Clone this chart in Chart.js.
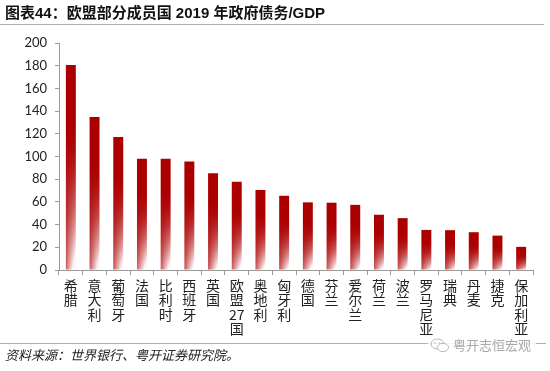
<!DOCTYPE html>
<html>
<head>
<meta charset="utf-8">
<script src="https://cdn.jsdelivr.net/npm/chart.js@4"></script>
<style>
  html, body { margin: 0; padding: 0; background: #fff; }
  #wrap { position: relative; width: 550px; height: 371px; overflow: hidden; font-family: "Liberation Sans", "Noto Sans CJK SC", sans-serif; }
  #chart { position: absolute; left: 0; top: 0; }
  #title { position: absolute; left: 5px; top: 4px; font-size: 15px; font-weight: bold; color: #111; white-space: nowrap; line-height: 18px; font-family: "Liberation Sans", "Noto Sans CJK SC", sans-serif; }
  #titleLine { position: absolute; left: 0; top: 24px; width: 544px; height: 0; border-top: 1px solid #b0b0b0; }
  #bottomLine { position: absolute; left: 0; top: 343px; width: 546px; height: 0; border-top: 1px solid #b0b0b0; }
  #source { position: absolute; left: 5px; top: 346px; font-size: 13px; font-style: italic; color: #222; white-space: nowrap; line-height: 18px; font-family: "Noto Sans CJK SC", sans-serif; }
  #wm { position: absolute; left: 428px; top: 336px; height: 18px; width: 108px; background: rgba(255,255,255,0.85); color: #a8a8a8; font-size: 13px; line-height: 18px; white-space: nowrap; font-family: "Noto Sans CJK SC", sans-serif; }
  #wm svg { position: absolute; left: 2px; top: 2px; }
  #wm span { position: absolute; left: 25px; top: 0; }
</style>
</head>
<body>
<div id="wrap">
  <canvas id="chart" width="550" height="371"></canvas>
  <div id="title">图表44：欧盟部分成员国 2019 年政府债务/GDP</div>
  <div id="titleLine"></div>
  <div id="bottomLine"></div>
  <div id="source">资料来源：世界银行、粤开证券研究院。</div>
  <div id="wm">
    <svg width="20" height="15" viewBox="0 0 20 15">
      <ellipse cx="7.5" cy="6" rx="6.5" ry="5" fill="none" stroke="#b5b5b5" stroke-width="1"/>
      <ellipse cx="13" cy="9.5" rx="5.5" ry="4.2" fill="#fff" stroke="#b5b5b5" stroke-width="1"/>
      <circle cx="5" cy="5" r="0.8" fill="#b5b5b5"/><circle cx="9.5" cy="5" r="0.8" fill="#b5b5b5"/>
    </svg>
    <span>粤开志恒宏观</span>
  </div>
</div>
<script>
// ---- data ----
const categories = ['希腊','意大利','葡萄牙','法国','比利时','西班牙','英国','欧盟27国','奥地利','匈牙利','德国','芬兰','爱尔兰','荷兰','波兰','罗马尼亚','瑞典','丹麦','捷克','保加利亚'];
const debtToGDP = [180.7,134.8,117.2,98.1,98.1,95.5,85.2,77.7,70.5,65.4,59.6,59.3,57.4,48.7,45.7,35.3,35.1,33.3,30.3,20.4];
const yTicks = [0,20,40,60,80,100,120,140,160,180,200];

// vertical labels: one character per line, digits kept together
function verticalLines(s) { return s.match(/[0-9]+|./g); }
const tickLabels = categories.map(verticalLines);

const BAR_PCT = 0.42;
const RED = [172, 0, 0];

function barFill(ctx) {
  const chart = ctx.chart;
  const xs = chart.scales && chart.scales.x, ys = chart.scales && chart.scales.y;
  const solid = 'rgb(' + RED.join(',') + ')';
  if (!xs || !ys || ctx.type !== 'data') return solid;
  const i = ctx.dataIndex, v = debtToGDP[i];
  const cx = xs.getPixelForValue(i);
  const top = ys.getPixelForValue(v), base = ys.getPixelForValue(0);
  if (!isFinite(cx) || !isFinite(top) || !isFinite(base) || base - top < 1) return solid;
  const bw = Math.max(2, Math.ceil(xs.width / categories.length * BAR_PCT) + 1);
  const h = Math.max(1, Math.ceil(base - top) + 1);
  const oc = document.createElement('canvas');
  oc.width = bw; oc.height = h;
  const o = oc.getContext('2d');
  const img = o.createImageData(bw, h);
  for (let y = 0; y < h; y++) {
    let t = (y / h - 0.3) / 0.7; t = Math.max(0, Math.min(1, t));
    for (let x = 0; x < bw; x++) {
      const s = (x + 0.5) / bw;
      let a = t * t * (0.2 + 0.95 * s) + t * 0.12;
      a = Math.max(0, Math.min(0.97, a));
      const k = (y * bw + x) * 4;
      img.data[k]     = Math.round(RED[0] * (1 - a) + 255 * a);
      img.data[k + 1] = Math.round(RED[1] * (1 - a) + 255 * a);
      img.data[k + 2] = Math.round(RED[2] * (1 - a) + 255 * a);
      img.data[k + 3] = 255;
    }
  }
  o.putImageData(img, 0, 0);
  const p = chart.ctx.createPattern(oc, 'no-repeat');
  p.setTransform(new DOMMatrix([1, 0, 0, 1, Math.round(cx - bw / 2), Math.floor(top)]));
  return p;
}

new Chart(document.getElementById('chart'), {
  type: 'bar',
  data: {
    labels: tickLabels,
    datasets: [{
      data: debtToGDP,
      backgroundColor: barFill,
      borderWidth: 0,
      barPercentage: BAR_PCT,
      categoryPercentage: 1
    }]
  },
  options: {
    responsive: false,
    animation: false,
    devicePixelRatio: 1,
    layout: { padding: { left: 0, top: 43, right: 17, bottom: 0 } },
    plugins: { legend: { display: false }, tooltip: { enabled: false }, title: { display: false } },
    scales: {
      x: {
        grid: { offset: true, drawOnChartArea: false, drawTicks: true, tickLength: 5, color: '#9a9a9a' },
        border: { color: '#9a9a9a', width: 1 },
        ticks: {
          autoSkip: false, maxRotation: 0, minRotation: 0, padding: 3,
          color: '#222',
          font: { family: '"Noto Sans CJK SC", sans-serif', size: 14, lineHeight: 1.04 }
        },
        afterFit(scale) { scale.height = 101; }
      },
      y: {
        min: 0, max: 200,
        afterBuildTicks(scale) { scale.ticks = yTicks.map(v => ({ value: v })); },
        grid: { drawOnChartArea: false, drawTicks: true, tickLength: 4, color: '#9a9a9a' },
        border: { color: '#9a9a9a', width: 1 },
        ticks: {
          padding: 8, color: '#222',
          font: { family: 'Lato, "Liberation Sans", sans-serif', size: 13 }
        },
        afterFit(scale) { scale.width = 59; }
      }
    }
  }
});
</script>
</body>
</html>
